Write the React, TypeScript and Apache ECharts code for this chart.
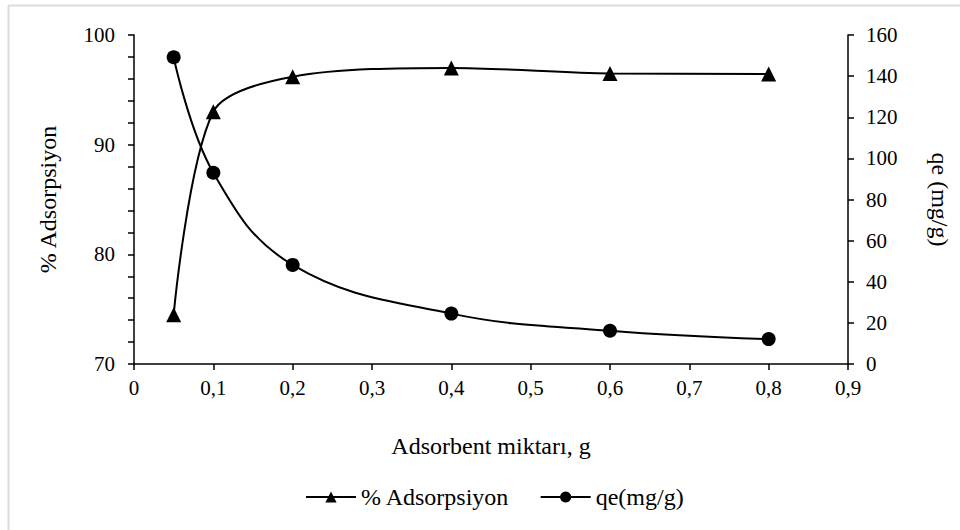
import React, { useEffect, useRef } from "react";
import * as echarts from "echarts";

const xValues = [0.05, 0.1, 0.2, 0.4, 0.6, 0.8];
const adsorpsiyon = [74.5, 93.0, 96.2, 97.0, 96.5, 96.45];
const qe = [149.2, 93.0, 48.2, 24.5, 16.2, 12.1];
const seriesNames = ["% Adsorpsiyon", "qe(mg/g)"];

const FONT = "Liberation Serif";

export default function App() {
  const ref = useRef<HTMLDivElement>(null);
  useEffect(() => {
    if (!ref.current) return;
    const chart = echarts.init(ref.current, null, { renderer: "svg" });
    const axisCommon = {
      axisLine: { show: true, lineStyle: { color: "#000", width: 1.5 } },
      axisTick: { show: true, inside: false, length: 6, lineStyle: { color: "#000", width: 1.5 } },
      splitLine: { show: false },
    };
    const lbl = { color: "#000", fontFamily: FONT, fontSize: 21 };
    const nameStyle = { color: "#000", fontFamily: FONT, fontSize: 24 };
    chart.setOption({
      animation: false,
      backgroundColor: "#fff",
      textStyle: { fontFamily: FONT },
      graphic: [
        { type: "line", shape: { x1: 8, y1: 5.5, x2: 960, y2: 5.5 }, style: { stroke: "#dcdcdc", lineWidth: 2 } },
        { type: "line", shape: { x1: 8.5, y1: 5, x2: 8.5, y2: 530 }, style: { stroke: "#dcdcdc", lineWidth: 2 } },
      ],
      grid: { left: 134, right: 112, top: 35, bottom: 166, containLabel: false },
      legend: {
        top: 480,
        left: 300,
        itemWidth: 50,
        itemHeight: 14,
        itemGap: 30,
        textStyle: { color: "#000", fontFamily: FONT, fontSize: 24 },
        data: seriesNames,
      },
      xAxis: {
        type: "value",
        min: 0,
        max: 0.9,
        interval: 0.1,
        ...axisCommon,
        axisLabel: {
          ...lbl,
          margin: 13,
          formatter: (v: number) => (Math.round(v * 10) / 10).toString().replace(".", ","),
        },
        name: "Adsorbent miktarı, g",
        nameTextStyle: nameStyle,
        nameLocation: "middle",
        nameGap: 70,
      },
      yAxis: [
        {
          type: "value",
          min: 70,
          max: 100,
          interval: 10,
          position: "left",
          ...axisCommon,
          axisLabel: { ...lbl, margin: 19 },
          minorTick: { show: true, splitNumber: 5, length: 6, lineStyle: { color: "#000", width: 1.5 } },
          name: "% Adsorpsiyon",
          nameTextStyle: nameStyle,
          nameLocation: "middle",
          nameGap: 74,
          nameRotate: 90,
        },
        {
          type: "value",
          min: 0,
          max: 160,
          interval: 20,
          position: "right",
          ...axisCommon,
          axisLabel: { ...lbl, margin: 18 },
          name: "qe (mg/g)",
          nameTextStyle: nameStyle,
          nameLocation: "middle",
          nameGap: 80,
          nameRotate: -90,
        },
      ],
      series: [
        {
          name: seriesNames[0],
          type: "line",
          yAxisIndex: 0,
          data: xValues.map((x, i) => [x, adsorpsiyon[i]]),
          smooth: 0.3,
          symbol: "triangle",
          symbolSize: 15,
          lineStyle: { color: "#000", width: 2 },
          itemStyle: { color: "#000" },
        },
        {
          name: seriesNames[1],
          type: "line",
          yAxisIndex: 1,
          data: xValues.map((x, i) => [x, qe[i]]),
          smooth: 0.4,
          symbol: "circle",
          symbolSize: 14,
          lineStyle: { color: "#000", width: 2 },
          itemStyle: { color: "#000" },
        },
      ],
    });
    return () => chart.dispose();
  }, []);
  return <div ref={ref} style={{ width: 960, height: 530, position: "absolute", left: 0, top: 0 }} />;
}
